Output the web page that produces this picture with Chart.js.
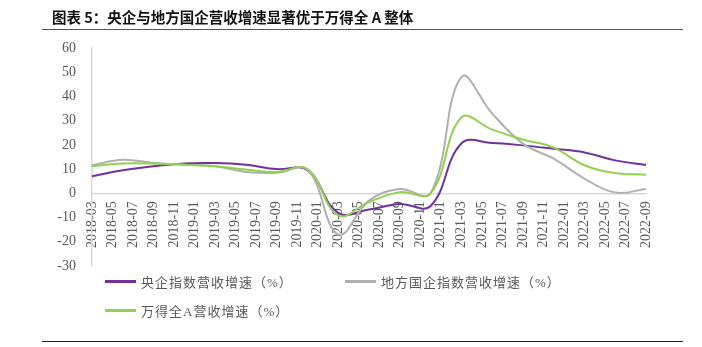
<!DOCTYPE html>
<html>
<head>
<meta charset="utf-8">
<script src="https://cdn.jsdelivr.net/npm/chart.js@4.4.0/dist/chart.umd.min.js"></script>
<style>
body { margin: 0; background: #fff; }
#wrap { position: relative; width: 702px; height: 347px; }
#title { position: absolute; left: 52px; top: 6px; font: bold 14.5px "Noto Sans CJK SC", sans-serif; color: #111; white-space: nowrap; }
.rule { position: absolute; left: 42px; width: 641px; height: 0; }
#legend { position: absolute; left: 105px; top: 272px; display: grid; grid-template-columns: 240px auto; row-gap: 10px;
  font: 13px "Liberation Serif", "Noto Sans CJK SC", serif; color: #595959; letter-spacing: 1px; }
.item { display: flex; align-items: center; height: 19px; white-space: nowrap; }
.item i { display: inline-block; width: 31px; height: 2.5px; margin-right: 5px; }
</style>
</head>
<body>
<div id="wrap">
  <div id="title">图表 5：央企与地方国企营收增速显著优于万得全 A 整体</div>
  <div class="rule" style="top:29px;border-top:1.5px solid #555"></div>
  <canvas id="chart" width="702" height="347"></canvas>
  <div id="legend"></div>
  <div class="rule" style="top:341px;border-top:1.5px solid #222"></div>
</div>
<script>
// quarterly report dates
var quarters = ['2018-03','2018-06','2018-09','2018-12','2019-03','2019-06','2019-09','2019-12',
  '2020-03','2020-06','2020-09','2020-12','2021-03','2021-06','2021-09','2021-12',
  '2022-03','2022-06','2022-09'];

// revenue growth, %
var centralSoe = [7.0, 9.5, 11.2, 12.3, 12.5, 11.8, 10.0, 9.6, -8.1, -6.7, -4.4, -5.2, 20.6, 20.8, 19.8, 18.4, 16.9, 13.6, 11.7];
var localSoe = [11.6, 13.9, 12.5, 11.8, 11.2, 8.8, 8.5, 9.8, -17.0, -3.0, 1.8, 0.0, 48.0, 33.0, 20.5, 14.3, 6.1, 0.3, 1.8];
var windA = [11.2, 12.3, 12.3, 11.8, 11.2, 9.8, 8.8, 10.0, -9.1, -3.6, 0.5, 0.0, 31.3, 26.3, 22.2, 18.9, 11.6, 8.4, 7.7];

// x axis labels, one every two months
var monthTicks = ['2018-03','2018-05','2018-07','2018-09','2018-11','2019-01','2019-03','2019-05','2019-07',
  '2019-09','2019-11','2020-01','2020-03','2020-05','2020-07','2020-09','2020-11','2021-01','2021-03',
  '2021-05','2021-07','2021-09','2021-11','2022-01','2022-03','2022-05','2022-07','2022-09'];

var yTicks = [-30, -20, -10, 0, 10, 20, 30, 40, 50, 60];

// months since the first label
function monthIndex(s) {
  var p = s.split('-');
  return (parseInt(p[0]) - 2018) * 12 + parseInt(p[1]) - 3;
}

function toPoints(values) {
  return values.map(function (v, i) { return { x: monthIndex(quarters[i]), y: v }; });
}

var tickFont = { family: '"Liberation Serif", "Times New Roman", serif', size: 14 };

var datasets = [
  { label: '央企指数营收增速（%）', data: toPoints(centralSoe), borderColor: '#7030a0', order: 2 },
  { label: '地方国企指数营收增速（%）', data: toPoints(localSoe), borderColor: '#b0b0b0', order: 1 },
  { label: '万得全A营收增速（%）', data: toPoints(windA), borderColor: '#92d050', order: 0 }
];
datasets.forEach(function (d) {
  d.borderWidth = 2;
  d.pointRadius = 0;
  d.tension = 0.4;
  d.fill = false;
});

var myChart = new Chart(document.getElementById('chart').getContext('2d'), {
  type: 'line',
  data: { datasets: datasets },
  options: {
    responsive: false,
    animation: false,
    layout: { padding: { left: 0, right: 56, top: 48, bottom: 81 } },
    plugins: { legend: { display: false }, tooltip: { enabled: false } },
    scales: {
      x: {
        type: 'linear',
        position: { y: 0 },
        min: 0,
        max: monthIndex(monthTicks[monthTicks.length - 1]),
        grid: { display: false, drawTicks: false },
        border: { display: true, color: '#d9d9d9', width: 1.5 },
        afterBuildTicks: function (scale) {
          scale.ticks = monthTicks.map(function (m) { return { value: monthIndex(m) }; });
        },
        ticks: {
          autoSkip: false,
          minRotation: 90,
          maxRotation: 90,
          padding: 8,
          color: '#595959',
          font: tickFont,
          callback: function (v) {
            var i = monthTicks.findIndex(function (m) { return monthIndex(m) === v; });
            return i >= 0 ? monthTicks[i] : '';
          }
        }
      },
      y: {
        min: yTicks[0],
        max: yTicks[yTicks.length - 1],
        grid: { display: false, drawTicks: false },
        border: { display: true, color: '#d9d9d9', width: 1.5 },
        afterFit: function (scale) { scale.width = 92; },
        ticks: { stepSize: 10, padding: 16, color: '#595959', font: tickFont }
      }
    }
  }
});

// legend built from the datasets
var legend = document.getElementById('legend');
myChart.data.datasets.forEach(function (d) {
  var item = document.createElement('div');
  item.className = 'item';
  var swatch = document.createElement('i');
  swatch.style.background = d.borderColor;
  item.appendChild(swatch);
  item.appendChild(document.createTextNode(d.label));
  legend.appendChild(item);
});
</script>
</body>
</html>
